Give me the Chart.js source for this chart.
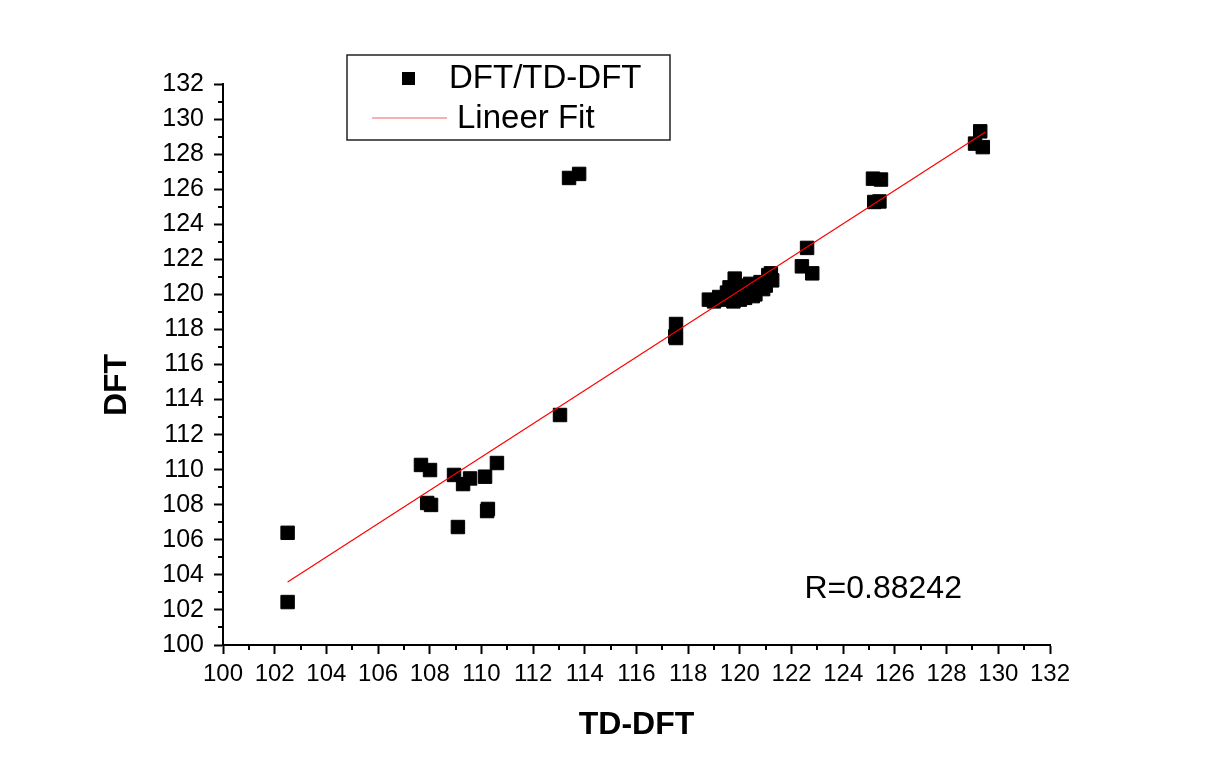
<!DOCTYPE html>
<html>
<head>
<meta charset="utf-8">
<script src="https://cdn.jsdelivr.net/npm/chart.js@4.4.1/dist/chart.umd.min.js"></script>
<style>
  html, body { margin: 0; padding: 0; background: #ffffff; }
  #wrap { width: 1224px; height: 771px; }
</style>
</head>
<body>
<div id="wrap"><canvas id="c" width="1224" height="771"></canvas></div>
<script>
// TD-DFT (x) versus DFT (y) values
const tdDft = [
  102.5, 102.5,
  107.66, 108.01, 107.9, 108.05, 108.94, 109.29, 109.56, 110.14, 110.6, 109.09, 110.22, 110.25,
  113.04, 113.39, 113.78,
  117.53, 117.53, 117.5,
  118.8, 119.2, 119.5, 119.8, 119.75, 120.2, 120.6, 120.9, 121.1, 121.25, 121.2, 119.6, 120.0, 120.4, 121.0,
  119.0, 119.4, 120.1, 120.5, 120.8,
  122.4, 122.6, 122.8,
  125.15, 125.46, 125.2, 125.4,
  129.3, 129.1, 129.4
];
const dftVals = [
  106.4, 102.45,
  110.27, 109.98, 108.1, 107.99, 109.7, 109.18, 109.5, 109.6, 110.38, 106.73, 107.64, 107.76,
  113.12, 126.64, 126.87,
  118.31, 117.51, 117.6,
  119.7, 119.85, 120.1, 120.9, 119.6, 119.8, 120.0, 120.3, 121.1, 120.8, 121.2, 120.4, 119.7, 120.6, 120.5,
  119.6, 119.7, 120.5, 119.9, 120.7,
  121.6, 122.65, 121.2,
  126.6, 126.55, 125.27, 125.3,
  129.3, 128.6, 128.4
];

// linear fit drawn between these two end points
const fitX = [102.5, 129.5];
const fitY = [103.6, 129.26];

const axisTicks = { min: 100, max: 132, major: 2 };
const seriesNames = ['DFT/TD-DFT', 'Lineer Fit'];
const axisNames = { x: 'TD-DFT', y: 'DFT' };
const rText = 'R=0.88242';
const rTextAt = { x: 122.5, y: 103.2 };

const FONT = '"Liberation Sans", Arial, sans-serif';

const points = tdDft.map((x, i) => ({ x, y: dftVals[i] }));
const fitLine = fitX.map((x, i) => ({ x, y: fitY[i] }));

// minor ticks, y axis title, statistic text and in-plot legend
const extras = {
  id: 'extras',
  afterDraw(chart) {
    const ctx = chart.ctx;
    const xs = chart.scales.x, ys = chart.scales.y;
    const ca = chart.chartArea;
    ctx.save();
    ctx.strokeStyle = '#000';
    ctx.lineWidth = 2;
    for (let v = axisTicks.min + 1; v < axisTicks.max; v += axisTicks.major) {
      const px = Math.round(xs.getPixelForValue(v));
      ctx.beginPath(); ctx.moveTo(px, ca.bottom); ctx.lineTo(px, ca.bottom + 5); ctx.stroke();
      const py = Math.round(ys.getPixelForValue(v));
      ctx.beginPath(); ctx.moveTo(ca.left, py); ctx.lineTo(ca.left - 5, py); ctx.stroke();
    }

    // y axis title
    ctx.fillStyle = '#000';
    ctx.save();
    ctx.translate(117, 385);
    ctx.rotate(-Math.PI / 2);
    ctx.font = 'bold 32px ' + FONT;
    ctx.textAlign = 'center';
    ctx.textBaseline = 'middle';
    ctx.fillText(axisNames.y, 0, 0);
    ctx.restore();

    // correlation coefficient
    ctx.font = '32px ' + FONT;
    ctx.textAlign = 'left';
    ctx.textBaseline = 'middle';
    ctx.fillText(rText, xs.getPixelForValue(rTextAt.x), ys.getPixelForValue(rTextAt.y));

    // legend box
    const bx = 347, by = 55, bw = 323, bh = 85;
    ctx.lineWidth = 1.5;
    ctx.strokeStyle = '#222';
    ctx.strokeRect(bx, by, bw, bh);
    ctx.fillStyle = '#000';
    ctx.fillRect(402, 72, 13, 13);
    ctx.font = '33px ' + FONT;
    ctx.fillText(seriesNames[0], 449, 79);
    ctx.strokeStyle = '#f06060';
    ctx.lineWidth = 1.2;
    ctx.beginPath(); ctx.moveTo(372, 118); ctx.lineTo(447, 118); ctx.stroke();
    ctx.fillStyle = '#000';
    ctx.fillText(seriesNames[1], 457, 119);
    ctx.restore();
  }
};

new Chart(document.getElementById('c'), {
  type: 'scatter',
  data: {
    datasets: [
      {
        label: seriesNames[0],
        data: points,
        pointStyle: 'rect',
        pointRadius: 9.5,
        pointHoverRadius: 9.5,
        backgroundColor: '#000',
        borderColor: '#000',
        borderWidth: 1,
        order: 2
      },
      {
        label: seriesNames[1],
        type: 'line',
        data: fitLine,
        showLine: true,
        borderColor: '#ff0000',
        borderWidth: 1.2,
        pointRadius: 0,
        fill: false,
        order: 1
      }
    ]
  },
  options: {
    responsive: false,
    animation: false,
    events: [],
    layout: { padding: { left: 100, top: 84, right: 174, bottom: 27 } },
    plugins: { legend: { display: false }, tooltip: { enabled: false } },
    scales: {
      x: {
        type: 'linear',
        min: axisTicks.min, max: axisTicks.max,
        afterFit(s) { s.height = 99; },
        border: { display: true, color: '#000', width: 2 },
        grid: { display: true, drawOnChartArea: false, drawTicks: true, tickLength: 9, tickColor: '#000', tickWidth: 2 },
        ticks: { stepSize: axisTicks.major, color: '#000', font: { family: FONT, size: 24 }, padding: 6, maxRotation: 0, autoSkip: false },
        title: { display: true, text: axisNames.x, color: '#000', font: { family: FONT, size: 32, weight: 'bold' }, padding: { top: 0, bottom: 0 } }
      },
      y: {
        type: 'linear',
        min: axisTicks.min, max: axisTicks.max,
        afterFit(s) { s.width = 123; },
        border: { display: true, color: '#000', width: 2 },
        grid: { display: true, drawOnChartArea: false, drawTicks: true, tickLength: 9, tickColor: '#000', tickWidth: 2 },
        ticks: { stepSize: axisTicks.major, color: '#000', font: { family: FONT, size: 25 }, padding: 10, autoSkip: false },
        title: { display: false }
      }
    }
  },
  plugins: [extras]
});
</script>
</body>
</html>
